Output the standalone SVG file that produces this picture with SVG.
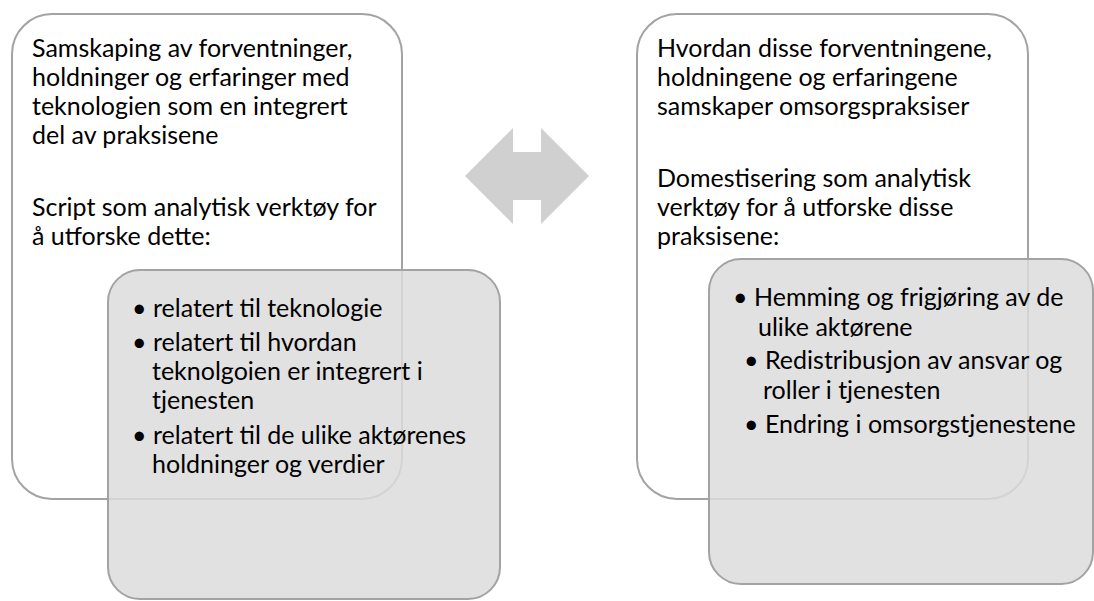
<svg xmlns="http://www.w3.org/2000/svg" width="1094" height="601" viewBox="0 0 1094 601">
  <style>
    .outer { fill: #ffffff; stroke: #a3a3a3; stroke-width: 2; }
    .inner { fill: #dcdcdc; fill-opacity: 0.85; stroke: #a3a3a3; stroke-width: 2; }
    .arrow { fill: #d0d0d0; stroke: none; }
    text { font-family: Lato, "Liberation Sans", sans-serif; font-size: 25px; fill: #000000; }
  </style>
  <rect x="0" y="0" width="1094" height="601" fill="#ffffff"/>
  <g id="left-outer">
    <rect class="outer" x="12" y="14" width="390" height="485" rx="40" ry="40"/>
    <text x="32" y="57">Samskaping av forventninger,</text>
    <text x="32" y="86">holdninger og erfaringer med</text>
    <text x="32" y="115">teknologien som en integrert</text>
    <text x="32" y="144">del av praksisene</text>
    <text x="32" y="216">Script som analytisk verktøy for</text>
    <text x="32" y="245">å utforske dette:</text>
  </g>
  <g id="right-outer">
    <rect class="outer" x="637" y="14" width="391" height="485" rx="40" ry="40"/>
    <text x="657" y="57">Hvordan disse forventningene,</text>
    <text x="657" y="86">holdningene og erfaringene</text>
    <text x="657" y="115">samskaper omsorgspraksiser</text>
    <text x="657" y="187">Domestisering som analytisk</text>
    <text x="657" y="216">verktøy for å utforske disse</text>
    <text x="657" y="245">praksisene:</text>
  </g>
  <g id="connectors">
    <polygon class="arrow" points="465,176 513,128 513,152 541,152 541,128 589,176 541,224 541,200 513,200 513,224"/>
  </g>
  <g id="left-inner">
    <rect class="inner" x="108" y="270" width="392" height="329" rx="32" ry="32"/>
    <text x="132" y="317">•</text>
    <text x="153" y="317">relatert til teknologie</text>
    <text x="132" y="351">•</text>
    <text x="153" y="351">relatert til hvordan</text>
    <text x="152" y="380">teknolgoien er integrert i</text>
    <text x="152" y="409">tjenesten</text>
    <text x="132" y="444">•</text>
    <text x="153" y="444">relatert til de ulike aktørenes</text>
    <text x="152" y="473">holdninger og verdier</text>
  </g>
  <g id="right-inner">
    <rect class="inner" x="709" y="259" width="384" height="325" rx="32" ry="32"/>
    <text x="733" y="306">•</text>
    <text x="754" y="306">Hemming og frigjøring av de</text>
    <text x="758" y="336">ulike aktørene</text>
    <text x="744" y="369">•</text>
    <text x="765" y="369">Redistribusjon av ansvar og</text>
    <text x="763" y="399">roller i tjenesten</text>
    <text x="744" y="433">•</text>
    <text x="765" y="433">Endring i omsorgstjenestene</text>
  </g>
</svg>
